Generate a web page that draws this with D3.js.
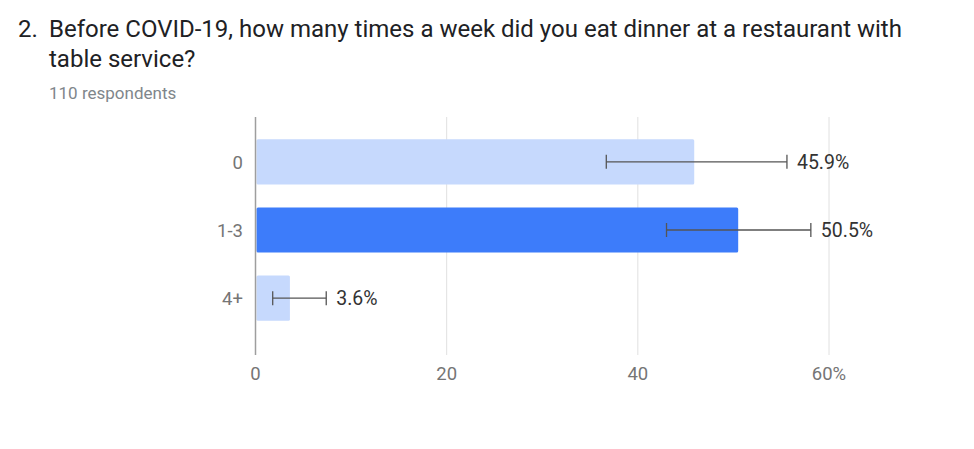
<!DOCTYPE html>
<html>
<head>
<meta charset="utf-8">
<script src="https://cdn.jsdelivr.net/npm/d3@7"></script>
<style>
  body { margin: 0; background: #fff; font-family: Roboto, "Noto Sans", sans-serif; }
  svg { display: block; }
</style>
</head>
<body>
<svg id="chart" width="974" height="449"></svg>
<script>
// survey answers and their percentages
const categories = ["0", "1-3", "4+"];
const percents = [45.9, 50.5, 3.6];
// error bar ends
const errLow = [36.7, 43.0, 1.8];
const errHigh = [55.6, 58.1, 7.4];
const xTicks = [0, 20, 40, 60];
const highlighted = "1-3";

const svg = d3.select("#chart");

// title block
const title = svg.append("g").attr("fill", "#202124").style("font-size", "24px");
title.append("text").attr("x", 18).attr("y", 37).text("2.");
title.append("text").attr("x", 49).attr("y", 37)
  .text("Before COVID-19, how many times a week did you eat dinner at a restaurant with");
title.append("text").attr("x", 49).attr("y", 67).text("table service?");

svg.append("text")
  .attr("x", 49).attr("y", 99)
  .attr("fill", "#80868b")
  .style("font-size", "17px")
  .text("110 respondents");

const x = d3.scaleLinear().domain([0, 60]).range([255.5, 829]);
const y = d3.scaleBand().domain(categories).range([127.8, 332.2]).paddingInner(0.338).paddingOuter(0.169);
const gridTop = 117, gridBottom = 355;

// gridlines + tick labels
const gx = svg.append("g");
gx.selectAll("line")
  .data(xTicks.slice(1))
  .enter().append("line")
    .attr("x1", d => x(d)).attr("x2", d => x(d))
    .attr("y1", gridTop).attr("y2", gridBottom)
    .attr("stroke", "#e0e0e0").attr("stroke-width", 1);

gx.selectAll("text")
  .data(xTicks)
  .enter().append("text")
    .attr("x", d => x(d))
    .attr("y", 380)
    .attr("text-anchor", "middle")
    .attr("fill", "#757575")
    .style("font-size", "18.5px")
    .text(d => d === 60 ? d + "%" : d);

const rows = categories.map((c, i) => ({ cat: c, v: percents[i], lo: errLow[i], hi: errHigh[i] }));

// bars
svg.append("g").selectAll("rect")
  .data(rows)
  .enter().append("rect")
    .attr("x", x(0) + 1)
    .attr("y", d => y(d.cat))
    .attr("width", d => x(d.v) - x(0) - 1)
    .attr("height", y.bandwidth())
    .attr("rx", 1.5)
    .attr("fill", d => d.cat === highlighted ? "#3d7cfa" : "#c6d9fd");

// baseline axis
svg.append("line")
  .attr("x1", x(0)).attr("x2", x(0))
  .attr("y1", gridTop).attr("y2", gridBottom)
  .attr("stroke", "#9e9e9e").attr("stroke-width", 1.5);

// category labels
svg.append("g").selectAll("text")
  .data(rows)
  .enter().append("text")
    .attr("x", 243)
    .attr("y", d => y(d.cat) + y.bandwidth() / 2)
    .attr("dy", "0.36em")
    .attr("text-anchor", "end")
    .attr("fill", "#757575")
    .style("font-size", "18.5px")
    .text(d => d.cat);

// error bars
const err = svg.append("g").attr("stroke", "#555").attr("stroke-width", 1.3);
rows.forEach(d => {
  const cy = y(d.cat) + y.bandwidth() / 2;
  err.append("line").attr("x1", x(d.lo)).attr("x2", x(d.hi)).attr("y1", cy).attr("y2", cy);
  err.append("line").attr("x1", x(d.lo)).attr("x2", x(d.lo)).attr("y1", cy - 7).attr("y2", cy + 7);
  err.append("line").attr("x1", x(d.hi)).attr("x2", x(d.hi)).attr("y1", cy - 7).attr("y2", cy + 7);
});

// value labels
svg.append("g").selectAll("text")
  .data(rows)
  .enter().append("text")
    .attr("x", d => x(d.hi) + 10)
    .attr("y", d => y(d.cat) + y.bandwidth() / 2)
    .attr("dy", "0.36em")
    .attr("fill", "#333")
    .style("font-size", "19.5px")
    .text(d => d.v + "%");
</script>
</body>
</html>
